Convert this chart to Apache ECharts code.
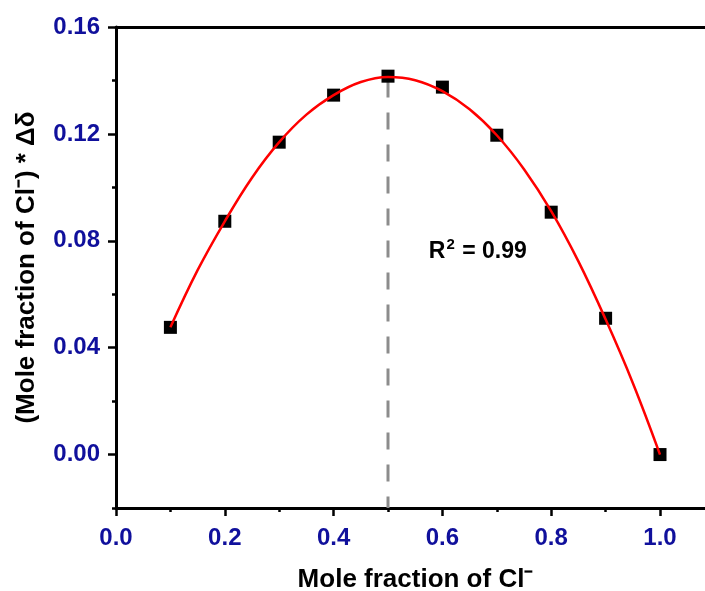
<!DOCTYPE html>
<html>
<head>
<meta charset="utf-8">
<script src="https://cdn.jsdelivr.net/npm/echarts@6/dist/echarts.min.js"></script>
<style>html,body{margin:0;padding:0;background:#fff;}#c{width:705px;height:591px;}</style>
</head>
<body>
<div id="c"></div>
<script>
const pointX = [0.1, 0.2, 0.3, 0.4, 0.5, 0.6, 0.7, 0.8, 0.9, 1.0];
const pointY = [0.0476, 0.0873, 0.1169, 0.1345, 0.1416, 0.1375, 0.1195, 0.0907, 0.0510, 0.0000];
const fitX = [0.10, 0.15, 0.20, 0.25, 0.30, 0.35, 0.40, 0.45, 0.50, 0.55, 0.60, 0.65, 0.70, 0.75, 0.80, 0.85, 0.90, 0.95, 1.00];
const fitY = [0.0476, 0.0690, 0.0873, 0.1036, 0.1169, 0.1272, 0.1345, 0.1394, 0.1413, 0.1401, 0.1360, 0.1292, 0.1195, 0.1068, 0.0911, 0.0723, 0.0506, 0.0268, 0.0000];
const dropX = [0.5, 0.5];
const dropY = [0.1400, -0.02];
const xMajorTicks = [0, 0.2, 0.4, 0.6, 0.8, 1.0];
const xMinorTicks = [0.1, 0.3, 0.5, 0.7, 0.9];
const yMajorTicks = [0, 0.04, 0.08, 0.12, 0.16];
const yMinorTicks = [-0.02, 0.02, 0.06, 0.10, 0.14];
const annotX = [0.665];
const annotY = [0.0765];

const FONT = "'Liberation Sans', Arial, sans-serif";
const LABEL_COLOR = '#10109c';
const X_MIN = 0, X_MAX = 1.0827, Y_MIN = -0.02, Y_MAX = 0.16;

const chart = echarts.init(document.getElementById('c'), null, {renderer: 'canvas'});
chart.setOption({
  animation: false,
  backgroundColor: '#fff',
  grid: {left: 116, top: 27, right: 0, bottom: 83, containLabel: false, outerBoundsMode: 'none'},
  xAxis: [
    {
      type: 'value', position: 'bottom', min: X_MIN, max: X_MAX,
      name: 'Mole fraction of Cl\u207B', nameLocation: 'middle', nameGap: 59,
      nameTextStyle: {fontFamily: FONT, fontWeight: 'bold', fontSize: 26, color: '#000', padding: [0, 0, 0, 10]},
      axisLine: {show: true, onZero: false, lineStyle: {color: '#000', width: 3}},
      axisTick: {show: true, inside: false, length: 8, lineStyle: {color: '#000', width: 2.5}, customValues: xMajorTicks},
      axisLabel: {show: true, margin: 18, fontFamily: FONT, fontWeight: 'bold', fontSize: 24, color: LABEL_COLOR,
        customValues: xMajorTicks, formatter: v => v.toFixed(1)},
      splitLine: {show: false}
    },
    {
      type: 'value', position: 'bottom', min: X_MIN, max: X_MAX,
      axisLine: {show: false, onZero: false},
      axisTick: {show: true, inside: false, length: 4, lineStyle: {color: '#000', width: 2.5}, customValues: xMinorTicks},
      axisLabel: {show: false},
      splitLine: {show: false}
    },
    {
      type: 'value', position: 'top', min: X_MIN, max: X_MAX,
      axisLine: {show: true, onZero: false, lineStyle: {color: '#000', width: 3}},
      axisTick: {show: false}, axisLabel: {show: false}, splitLine: {show: false}
    }
  ],
  yAxis: [
    {
      type: 'value', position: 'left', min: Y_MIN, max: Y_MAX,
      name: '(Mole fraction of Cl\u207B) * \u0394\u03B4', nameLocation: 'middle', nameGap: 76, nameRotate: 90,
      nameTextStyle: {fontFamily: FONT, fontWeight: 'bold', fontSize: 26, color: '#000'},
      axisLine: {show: true, onZero: false, lineStyle: {color: '#000', width: 3}},
      axisTick: {show: true, inside: false, length: 8, lineStyle: {color: '#000', width: 2.5}, customValues: yMajorTicks},
      axisLabel: {show: true, margin: 16, fontFamily: FONT, fontWeight: 'bold', fontSize: 24, color: LABEL_COLOR,
        customValues: yMajorTicks, formatter: v => v.toFixed(2)},
      splitLine: {show: false}
    },
    {
      type: 'value', position: 'left', min: Y_MIN, max: Y_MAX,
      axisLine: {show: false, onZero: false},
      axisTick: {show: true, inside: false, length: 4, lineStyle: {color: '#000', width: 2.5}, customValues: yMinorTicks},
      axisLabel: {show: false},
      splitLine: {show: false}
    }
  ],
  series: [
    {
      type: 'line', xAxisIndex: 0, yAxisIndex: 0, z: 1,
      data: dropX.map((x, i) => [x, dropY[i]]),
      symbol: 'none', silent: true,
      lineStyle: {color: '#8c8c8c', width: 3, type: [17, 15]}
    },
    {
      type: 'scatter', xAxisIndex: 0, yAxisIndex: 0, z: 2,
      data: pointX.map((x, i) => [x, pointY[i]]),
      symbol: 'rect', symbolSize: 13,
      itemStyle: {color: '#000', opacity: 1}
    },
    {
      type: 'line', xAxisIndex: 0, yAxisIndex: 0, z: 3,
      data: fitX.map((x, i) => [x, fitY[i]]),
      symbol: 'none', smooth: 0.4,
      lineStyle: {color: '#ff0000', width: 2.5}
    },
    {
      type: 'scatter', xAxisIndex: 0, yAxisIndex: 0, z: 4,
      data: annotX.map((x, i) => [x, annotY[i]]),
      symbolSize: 0, silent: true,
      itemStyle: {opacity: 1},
      label: {
        show: true, position: 'inside', opacity: 1,
        formatter: '{r|R}{s|2}{r| = 0.99}',
        rich: {
          r: {fontFamily: FONT, fontWeight: 'bold', fontSize: 23, color: '#000', verticalAlign: 'bottom', lineHeight: 26},
          s: {fontFamily: FONT, fontWeight: 'bold', fontSize: 15, color: '#000', verticalAlign: 'top', lineHeight: 26, padding: [0, 1, 10, 1]}
        }
      }
    }
  ]
});
</script>
</body>
</html>
